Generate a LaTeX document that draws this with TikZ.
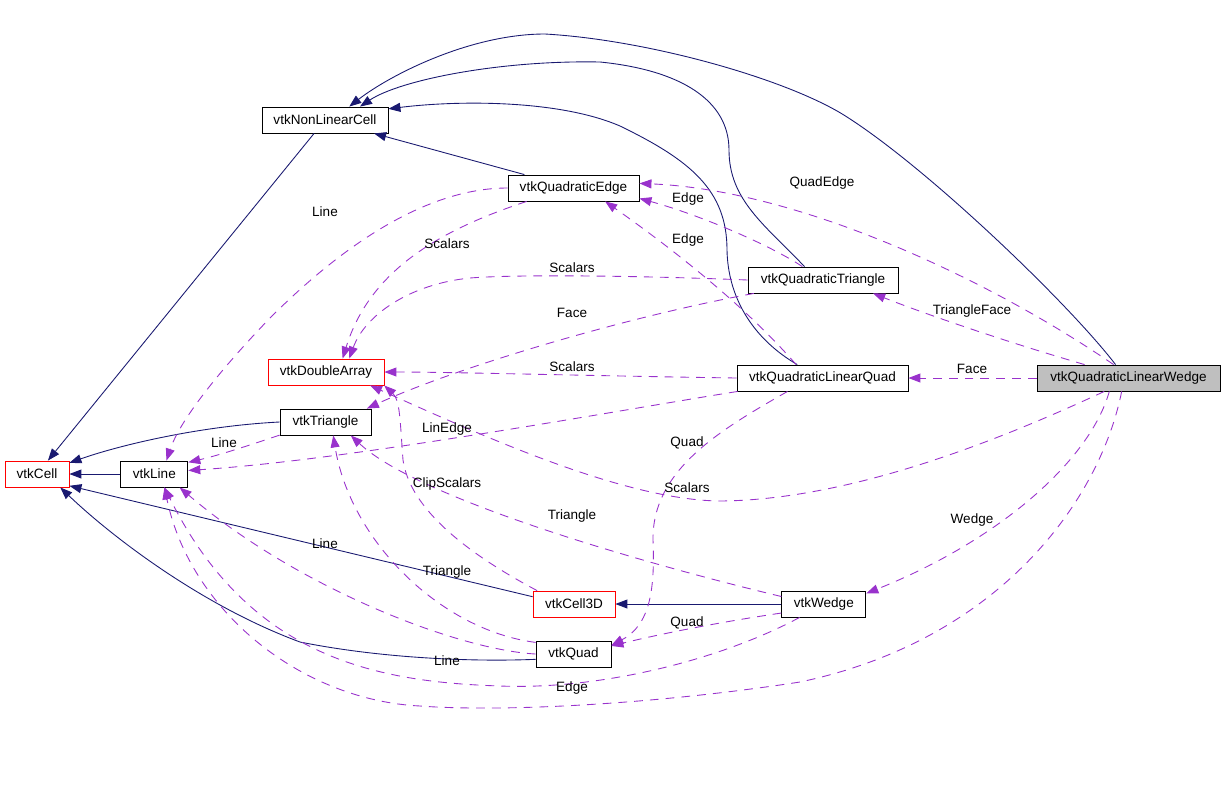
\documentclass[tikz,border=0pt]{standalone}
\usepackage{fontspec}
\setmainfont{Liberation Sans}
\usetikzlibrary{arrows.meta,positioning}

\definecolor{inherit}{RGB}{25,25,112}
\definecolor{usage}{RGB}{153,50,204}

\begin{document}
\begin{tikzpicture}[
    x=0.02cm, y=-0.02cm, % one unit = one pixel of the reference
    every node/.style={font=\fontsize{7.7}{9}\selectfont},
    cls/.style={draw, rectangle, minimum height=0.52cm, inner sep=0pt, line width=0.5pt},
    undoc/.style={cls, draw=red},
    current/.style={cls, fill=black!25},
    lbl/.style={inner sep=0pt},
    isa/.style={draw=inherit, line width=0.5pt, -{Triangle[length=0.24cm, width=0.18cm]}},
    uses/.style={draw=usage, line width=0.5pt, dash pattern=on 5pt off 4pt,
        -{Triangle[length=0.24cm, width=0.18cm]}}
]
\useasboundingbox (0,0) rectangle (1224,809);

% ==================== CLASSES ====================
\node[cls, minimum width=2.52cm] (nlc) at (325,120) {vtkNonLinearCell};
\node[cls, minimum width=2.62cm] (qedge) at (573.5,188) {vtkQuadraticEdge};
\node[cls, minimum width=3.0cm] (qtri) at (823,280) {vtkQuadraticTriangle};
\node[undoc, minimum width=2.32cm] (darr) at (326,372) {vtkDoubleArray};
\node[cls, minimum width=3.42cm] (qlquad) at (822.5,378) {vtkQuadraticLinearQuad};
\node[current, minimum width=3.66cm] (qlwedge) at (1128.5,378) {vtkQuadraticLinearWedge};
\node[cls, minimum width=1.82cm] (tri) at (325.5,422) {vtkTriangle};
\node[undoc, minimum width=1.28cm] (cell) at (37,474) {vtkCell};
\node[cls, minimum width=1.34cm, right=1.02cm of cell] (line) {vtkLine};
\node[undoc, minimum width=1.64cm] (cell3d) at (574,604) {vtkCell3D};
\node[cls, minimum width=1.68cm, right=3.32cm of cell3d] (wedge) {vtkWedge};
\node[cls, minimum width=1.5cm] (quad) at (573.5,654) {vtkQuad};

% ==================== INHERITANCE ====================
\foreach \a/\b in {nlc/cell, qedge/nlc, line/cell, wedge/cell3d}
    \draw[isa] (\a) -- (\b);

\draw[isa] (qtri.144) .. controls (765,225) and (729,200) .. (729,150)
    .. controls (729,100) and (680,70) .. (600,62)
    .. controls (500,60) and (400,80) .. (nlc.21.5);
\draw[isa] (qlquad.152) .. controls (755,340) and (728,300) .. (727,250)
    .. controls (727,190) and (690,160) .. (620,126)
    .. controls (560,100) and (460,100) .. (nlc.10.8);
\draw[isa] (qlwedge.134) .. controls (1070,305) and (930,170) .. (847,117)
    .. controls (790,80) and (650,40) .. (545,34)
    .. controls (470,34) and (390,75) .. (nlc.29.5);
\draw[isa] (tri.west) .. controls (200,426) and (120,445) .. (cell.19);
\draw[isa] (cell3d.170) -- (cell.-20);
\draw[isa] (quad.188) .. controls (470,662) and (380,658) .. (300,642)
    .. controls (200,605) and (110,535) .. (cell.-30.6);

% ==================== MEMBERS ====================
\draw[uses] (qedge.west) .. controls (440,188) and (360,228) .. (270,318)
    .. controls (220,370) and (180,420) .. (line.48.5);
\draw[uses] (qedge.196) .. controls (440,230) and (370,270) .. (darr.39);
\draw[uses] (qtri.west) .. controls (650,276) and (520,274) .. (470,278)
    .. controls (410,284) and (365,315) .. (darr.30.6);
\draw[uses] (qtri.191.7) .. controls (620,318) and (450,370) .. (tri.18.2);
\draw[uses] (qtri.147) .. controls (770,245) and (700,215) .. (qedge.-9.5);
\draw[uses] (qlquad.153) .. controls (740,300) and (660,240) .. (qedge.-23.8);
\draw[uses] (qlquad.west) .. controls (600,376) and (450,372) .. (darr.east);
\draw[uses] (qlquad.189.3) .. controls (620,410) and (350,460) .. (line.6.8);
\draw[uses] (qlquad.201.8) .. controls (720,430) and (652,470) .. (653,540)
    .. controls (655,590) and (650,625) .. (quad.13.5);
\draw[uses] (qlwedge.209) .. controls (1000,440) and (850,500) .. (720,501)
    .. controls (620,500) and (470,430) .. (darr.-17.6);
\draw[uses] (cell3d.160.6) .. controls (470,555) and (410,510) .. (403,460)
    .. controls (400,420) and (400,400) .. (darr.-13.3);
\draw[uses] (wedge.170.5) .. controls (650,565) and (420,500) .. (tri.-28);
\draw[uses] (wedge.192) .. controls (720,622) and (660,634) .. (quad.12);
\draw[uses] (qlwedge.215) .. controls (1090,460) and (1000,540) .. (wedge.14.7);
\draw[uses] (qlwedge.243.4) .. controls (1100,500) and (1000,640) .. (800,682)
    .. controls (650,705) and (500,712) .. (420,706)
    .. controls (300,700) and (190,610) .. (line.-53.8);
\draw[uses] (wedge.209.5) .. controls (720,660) and (600,690) .. (500,686)
    .. controls (380,682) and (250,660) .. (line.-53.8);
\draw[uses] (quad.west) .. controls (460,650) and (300,590) .. (line.-28);
\draw[uses] (quad.163.6) .. controls (440,630) and (350,540) .. (tri.-60);
\draw[uses] (tri.196) .. controls (250,445) and (220,455) .. (line.19.7);
\draw[uses] (qlwedge.138) .. controls (990,280) and (800,190) .. (qedge.4.4);
\draw[uses] (qlwedge.163.4) .. controls (1000,340) and (920,312) .. (qtri.-15.2);
\draw[uses] (qlwedge) -- (qlquad);

% ==================== EDGE LABELS ====================
\node[lbl] (lab-quadedge) at (822,183) {QuadEdge};
\node[lbl] (lab-edge1) at (688,199) {Edge};
\node[lbl] (lab-edge2) at (688,240) {Edge};
\node[lbl] (lab-line1) at (325,212) {Line};
\node[lbl] (lab-scalars1) at (447,244) {Scalars};
\node[lbl] (lab-scalars2) at (572,268) {Scalars};
\node[lbl] (lab-triface) at (972,311) {TriangleFace};
\node[lbl] (lab-face1) at (572,313) {Face};
\node[lbl] (lab-scalars3) at (572,367) {Scalars};
\node[lbl] (lab-face2) at (972,369) {Face};
\node[lbl] (lab-linedge) at (447,429) {LinEdge};
\node[lbl] (lab-line2) at (224,443) {Line};
\node[lbl] (lab-quad1) at (687,443) {Quad};
\node[lbl] (lab-clip) at (447,484) {ClipScalars};
\node[lbl] (lab-scalars4) at (687,488) {Scalars};
\node[lbl] (lab-tri1) at (572,516) {Triangle};
\node[lbl] (lab-wedge) at (972,520) {Wedge};
\node[lbl] (lab-line3) at (325,544) {Line};
\node[lbl] (lab-tri2) at (447,572) {Triangle};
\node[lbl] (lab-quad2) at (687,623) {Quad};
\node[lbl] (lab-line4) at (447,661) {Line};
\node[lbl] (lab-edge3) at (572,688) {Edge};
\end{tikzpicture}
\end{document}
